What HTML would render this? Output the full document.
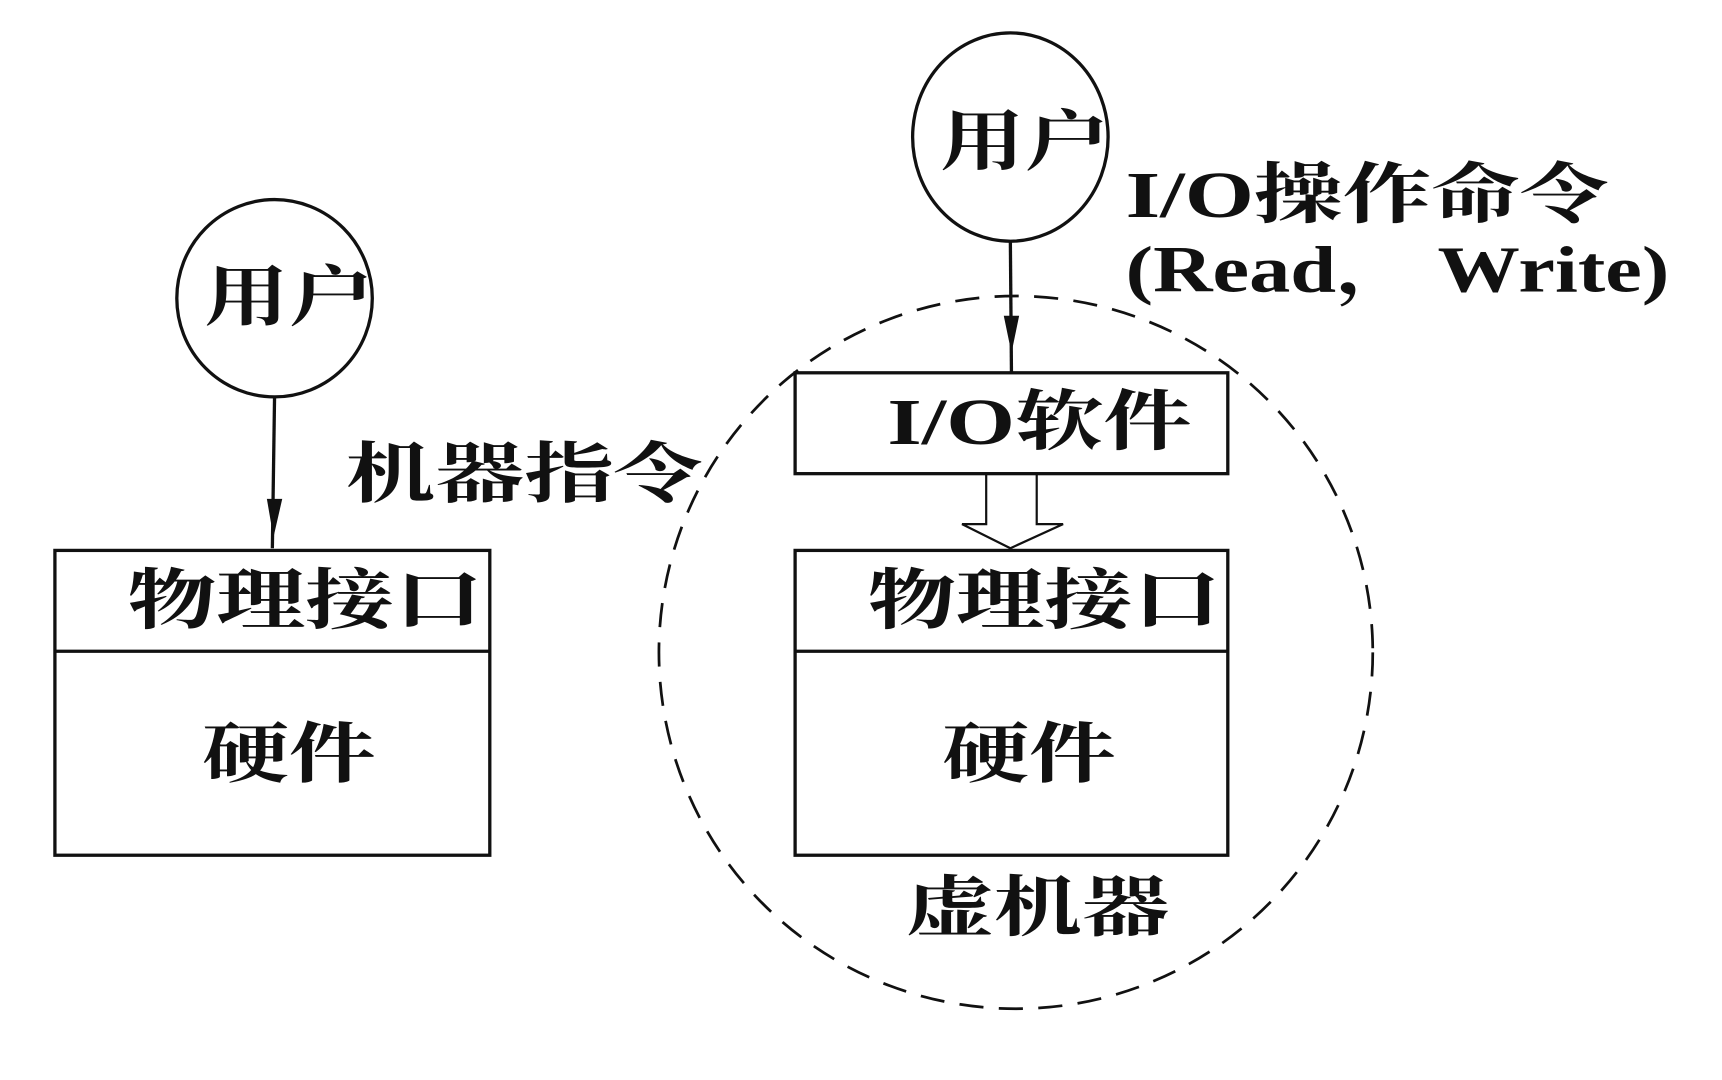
<!DOCTYPE html>
<html><head><meta charset="utf-8"><style>
html,body{margin:0;padding:0;background:#fff;}
svg{display:block;}
text{font-family:"Liberation Serif","Noto Serif CJK SC",serif;fill:#111;font-weight:bold;}
</style></head><body>
<svg width="1722" height="1080" viewBox="0 0 1568 985" preserveAspectRatio="none" xmlns="http://www.w3.org/2000/svg">
<g stroke="#111" stroke-width="3" fill="none">
<ellipse cx="250" cy="272" rx="89" ry="90"/>
<line x1="250" y1="362" x2="248" y2="500"/>
<rect x="50" y="502" width="396" height="278"/>
<line x1="50" y1="594" x2="446" y2="594"/>
<ellipse cx="920" cy="125" rx="89" ry="95"/>
<line x1="920" y1="220" x2="921" y2="340"/>
<rect x="724" y="340" width="394" height="92"/>
<rect x="724" y="502" width="394" height="278"/>
<line x1="724" y1="594" x2="1118" y2="594"/>
<ellipse cx="925" cy="595" rx="325" ry="325" stroke-dasharray="22 14" stroke-width="2.5"/>
<polygon points="898,432 944,432 944,478 968,478 920,500 876,478 898,478" stroke-width="2"/>
</g>
<polygon points="243,455 257,455 249,490" fill="#111"/>
<polygon points="914,288 928,288 921,322" fill="#111"/>
<g font-size="60" lengthAdjust="spacingAndGlyphs">
<text x="186" y="292" textLength="154" lengthAdjust="spacingAndGlyphs">用户</text>
<text x="856" y="150" textLength="154" lengthAdjust="spacingAndGlyphs">用户</text>
<text x="315" y="453" textLength="325" lengthAdjust="spacingAndGlyphs">机器指令</text>
<text x="116" y="568" textLength="324" lengthAdjust="spacingAndGlyphs">物理接口</text>
<text x="184" y="708" textLength="158" lengthAdjust="spacingAndGlyphs">硬件</text>
<text x="790" y="568" textLength="322" lengthAdjust="spacingAndGlyphs">物理接口</text>
<text x="858" y="708" textLength="158" lengthAdjust="spacingAndGlyphs">硬件</text>
<text x="825" y="848" textLength="240" lengthAdjust="spacingAndGlyphs">虚机器</text>
<text x="808" y="405" textLength="277" lengthAdjust="spacingAndGlyphs">I/O软件</text>
<text x="1025" y="198" textLength="440" lengthAdjust="spacingAndGlyphs">I/O操作命令</text>
<text x="1025" y="266" textLength="495" lengthAdjust="spacingAndGlyphs">(Read， Write)</text>
</g>
</svg>
</body></html>
